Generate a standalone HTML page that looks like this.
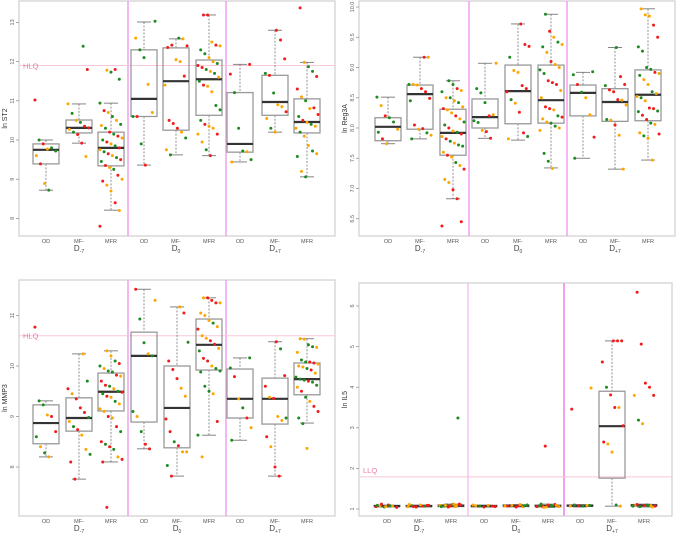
<!DOCTYPE html>
<html><head><meta charset="utf-8"><style>
body{margin:0;background:#fff;}
svg{display:block;font-family:"Liberation Sans",sans-serif;}
</style></head><body>
<svg id="chart" width="677" height="534" viewBox="0 0 677 534"></svg>
<script>
const categories=["OD","MF-","MFR"];
const groups=["-7","0","+7"];
// box stats [lo,q1,med,q3,hi] per group x category
const st2Boxes=[[8.72,9.39,9.75,9.9,10.0],[9.92,10.18,10.31,10.51,10.92],[8.21,9.34,9.8,10.2,10.94],[9.36,10.6,11.05,12.3,13.01],[9.62,10.25,11.5,12.35,12.58],[9.6,10.63,11.55,12.04,13.19],[9.44,9.69,9.9,11.21,11.93],[10.2,10.63,10.97,11.65,12.8],[9.06,10.18,10.46,11.05,11.98]];
const st2Points=["11.02r 10.0g 9.9r 9.77o 9.8g 9.72g 9.6o 9.39r 8.89o 8.72g","12.39g 11.8r 10.92o 10.68g 10.5o 10.45g 10.35r 10.31r 10.27o 10.2g 10.14r 9.92r 9.58o","11.78o 11.73g 11.8r 11.55g 10.94g 10.75r 10.7o 10.6g 10.5o 10.4g 10.37o 10.3g 10.2r 10.15g 10.1r 10.05o 10.0g 9.95r 9.9o 9.85g 9.8r 9.75o 9.7g 9.65r 9.6o 9.55g 9.5r 9.45g 9.35r 9.3o 9.25g 9.1r 9.0o 8.95r 8.85o 8.7o 8.4r 8.2o 7.8r","13.03g 12.6o 12.3g 12.1g 11.42o 10.7o 10.6g 10.6r 9.9g 9.36r","12.6g 12.58o 12.4r 12.36r 12.42r 12.05o 12.0o 11.63r 11.4o 10.5r 10.42r 10.3r 10.2o 10.05g 9.75o 9.62g","13.19r 13.19r 12.5o 12.42r 12.4o 12.3g 12.2g 12.1o 12.0o 11.95g 11.9r 11.85r 11.8g 11.75o 11.7g 11.6o 11.5g 11.4r 11.37o 11.23o 10.88g 10.77g 10.5g 10.4r 10.35o 10.3o 10.15r 10.15o 9.95o 9.75g 9.6r","11.93r 11.68r 11.21g 10.3g 9.72g 9.7o 9.5g 9.44o","12.8r 12.55r 12.07r 11.7g 11.65r 11.2g 10.9o 10.85o 10.72r 10.55o 10.3g 10.2o","13.37r 11.98o 11.87g 11.75g 11.62r 11.3r 11.1o 11.0g 10.8o 10.82r 10.65r 10.6g 10.5r 10.45o 10.4g 10.35o 10.3o 10.2g 10.1o 9.86o 9.72g 9.65o 9.58g 9.2o 9.06g"];
const st2Ticks=[8,9,10,11,12,13];
const reg3aBoxes=[[7.74,7.79,8.02,8.17,8.51],[7.82,7.98,8.56,8.71,9.17],[6.83,7.55,7.92,8.31,8.78],[7.83,8.0,8.18,8.48,9.07],[7.8,8.07,8.61,9.04,9.72],[7.34,8.08,8.46,9.04,9.88],[7.5,8.2,8.58,8.71,8.92],[7.32,8.11,8.43,8.65,9.33],[7.47,8.12,8.55,8.96,9.97]];
const reg3aPoints=["8.51g 8.37o 8.2r 8.17g 8.1g 7.98o 7.93g 7.82r 7.74o","9.17r 9.17o 8.72g 8.72o 8.71o 8.65r 8.6r 8.49r 8.45g 8.05r 7.98o 7.99r 7.92g 7.88o 7.82g","8.78g 8.72g 8.65r 8.62o 8.6g 8.5o 8.5g 8.45o 8.42g 8.35o 8.32r 8.3o 8.25o 8.2r 8.15o 8.1g 8.05g 8.0r 7.95o 7.93g 7.9r 7.86o 7.82r 7.78g 7.75o 7.72g 7.7g 7.6o 7.55r 7.52o 7.43g 7.38o 7.32r 7.15o 7.1o 6.98r 6.83r 6.45r 6.38r","9.07o 8.65g 8.58g 8.42g 8.2r 8.22o 8.12g 8.09g 7.96o 7.94r 7.83r","9.72r 9.38r 9.35r 9.17g 8.95o 8.92o 8.7r 8.65r 8.6r 8.47g 8.41o 8.26r 7.92r 7.86g 7.82o","9.88g 9.6r 9.5o 9.42g 9.38o 9.34g 9.25o 9.1r 9.05o 9.0o 8.96g 8.9g 8.78r 8.75r 8.72r 8.62o 8.5o 8.35r 8.32r 8.3o 8.2g 8.18r 8.15o 8.1o 8.08g 8.03g 8.0o 7.96o 7.58g 7.45g 7.33o","8.93g 8.88g 8.72r 8.59g 8.5o 8.22o 7.85r 7.5g","9.33g 8.85r 8.72r 8.7g 8.63r 8.6r 8.47r 8.46o 8.38o 8.14g 8.13o 8.05r 7.88o 7.32o","9.97o 9.87o 9.85o 9.7r 9.5r 9.34g 9.27g 9.0g 8.97g 8.92r 8.9o 8.87g 8.8o 8.72o 8.6g 8.57o 8.52o 8.5g 8.45o 8.33r 8.32r 8.28g 8.27g 8.21r 8.14r 8.08g 8.06o 7.9r 7.92o 7.87g 7.83o 7.47o"];
const reg3aTicks=[6.5,7.0,7.5,8.0,8.5,9.0,9.5,10.0];
const mmp3Boxes=[[8.2,8.46,8.87,9.23,9.31],[7.76,8.71,8.97,9.37,10.24],[8.1,9.11,9.49,9.86,10.3],[8.36,8.89,10.2,10.67,11.52],[7.82,8.38,9.17,10.0,11.17],[8.63,9.92,10.42,10.93,11.35],[8.53,8.97,9.35,9.94,10.16],[7.82,8.85,9.35,9.76,10.48],[8.87,9.43,9.74,10.06,10.54]];
const mmp3Points=["10.77r 9.31g 9.23g 9.03o 9.0r 8.7r 8.6g 8.4o 8.28g 8.2o","10.24o 9.7g 9.55r 9.45o 9.35r 9.17r 9.08r 8.98g 8.9o 8.8g 8.74r 8.63o 8.35o 8.25g 8.1r 7.76r","10.3o 10.2o 10.1g 10.05r 10.0g 9.95o 9.9g 9.88g 9.82r 9.8o 9.7r 9.62r 9.6g 9.55o 9.5g 9.48r 9.45g 9.4r 9.38o 9.3g 9.25o 9.15o 9.1o 9.0r 8.97o 8.8r 8.7g 8.5r 8.45g 8.4r 8.35g 8.2o 8.15r 8.1r 7.2r","11.3o 11.52r 10.93g 10.46g 10.24o 10.2g 9.1g 9.0o 8.7g 8.45r 8.36r","11.17o 11.05r 10.47g 10.1r 9.93r 9.75r 9.56o 9.4o 8.95r 8.7r 8.5g 8.42r 8.3o 8.3o 8.03g 7.82r","11.35o 11.35r 11.3r 11.25r 11.25o 11.05o 11.0o 10.9o 10.85g 10.78o 10.73r 10.6o 10.55o 10.5r 10.43r 10.35o 10.3g 10.15r 10.1r 10.0o 9.95g 9.9g 9.88g 9.6g 9.5g 9.45o 8.9r 8.63g 8.2o","10.16g 9.96g 9.79r 9.35o 9.17g 8.97r 8.78o 8.53g","10.48r 10.34g 9.81r 9.6r 9.38o 9.36r 9.0o 8.92o 8.97g 8.6r 8.4o 8.0r 7.82r","10.54o 10.53o 10.42g 10.38g 10.37o 10.27o 10.12g 10.08g 10.08r 10.06r 10.04o 10.0o 9.98o 9.95g 9.92r 9.86o 9.78g 9.74g 9.72g 9.7r 9.68g 9.62g 9.58o 9.5r 9.38g 9.3o 9.2r 9.1r 8.97g 8.86g 8.37o"];
const mmp3Ticks=[8,9,10,11];
const il5Boxes=[[1.05,1.06,1.07,1.09,1.1],[1.05,1.06,1.07,1.09,1.1],[1.05,1.06,1.08,1.1,1.12],[1.05,1.06,1.07,1.09,1.1],[1.05,1.06,1.08,1.1,1.11],[1.04,1.06,1.07,1.1,1.12],[1.05,1.07,1.08,1.1,1.11],[1.07,1.76,3.04,3.9,5.14],[1.05,1.07,1.09,1.11,1.12]];
const il5Points=["1.06r 1.08o 1.05g 1.1r 1.07o 1.04r 1.09g 1.12r 1.06o 1.08g","1.07r 1.09r 1.06o 1.08g 1.05r 1.1o 1.07g 1.09r 1.11o 1.06r","1.1g 1.08r 1.06o 1.12r 1.09o 1.07g 1.05r 1.11g 1.08o 1.1r 1.06g 1.09o 1.07r 1.12o 3.24g","1.06r 1.08o 1.07g 1.05r 1.09o 1.07r 1.1o","1.08r 1.06o 1.1g 1.07r 1.09o 1.05r 1.11o 1.08g 1.07o","1.07r 1.05o 1.09g 1.11r 1.06o 1.08g 1.04o 1.1r 1.07g 1.09o 1.06r 1.12g 2.55r","1.09g 1.07o 1.1g 1.08r 1.07g 1.09o 3.98o 3.46r","5.14r 5.14r 5.14r 4.62r 4.0g 3.81r 3.5r 3.5o 3.05r 2.65r 2.6o 2.4o 1.1g 1.07o","6.34r 5.06r 4.1r 4.0r 3.8r 3.8o 3.19g 3.1o 1.1g 1.08o 1.07r 1.1o 1.06g 1.09r 1.08g 1.05o 1.07g 1.11r"];
const il5Ticks=[1,2,3,4,5,6];

const NS="http://www.w3.org/2000/svg";
const svg=document.getElementById('chart');
const COL={r:"#f21b1b",o:"#ffa500",g:"#1e8a22"};
function mk(tag,attrs,parent){const e=document.createElementNS(NS,tag);for(const k in attrs)e.setAttribute(k,attrs[k]);(parent||svg).appendChild(e);return e;}

function panel(cfg){
  const g=mk('g',{});
  
  
  const y=v=>cfg.y0-(v-cfg.v0)*cfg.ppu;
  const fr=mk('rect',{x:cfg.left,y:cfg.top,width:cfg.right-cfg.left,height:cfg.bottom-cfg.top,fill:'none',stroke:'#cfcfcf','stroke-width':1.2},g);
  
  
  cfg.vlines.forEach((vx,i)=>{const l=mk('line',{x1:vx,x2:vx,y1:cfg.top,y2:cfg.bottom,stroke:'#f0a0f0','stroke-width':cfg.vw[i]},g);
    
    });
  if(cfg.ref){const l=mk('line',{x1:cfg.left,x2:cfg.right,y1:y(cfg.ref),y2:y(cfg.ref),stroke:'#f7c8d8','stroke-width':1},g);
    
    
    const t=mk('text',{x:cfg.left+4,y:y(cfg.ref)+(cfg.refBelow?3:-4)+ (cfg.refBelow?0:0),'font-size':7.5,fill:'#e77aa8'},g);t.textContent=cfg.refLabel;
    
    }
  cfg.ticks.forEach(tv=>{const yy=y(tv);
    mk('line',{x1:cfg.left-3,x2:cfg.left,y1:yy,y2:yy,stroke:'#888','stroke-width':0.7},g);
    const t=mk('text',{x:0,y:0,'font-size':5.5,fill:'#666','text-anchor':'middle',transform:`translate(${cfg.left-5},${yy}) rotate(-90)`},g);
    t.textContent=cfg.tickFmt(tv);
    
    });
  const yl=mk('text',{x:0,y:0,'font-size':7,fill:'#333','text-anchor':'middle',transform:`translate(${cfg.left-12},${(cfg.top+cfg.bottom)/2}) rotate(-90)`},g);
  yl.textContent=cfg.ylabel;
  
  
  const bw=26;
  cfg.boxes.forEach((b,i)=>{
    const cx=cfg.xs[i];
    const bg=mk('g',{},g);
    
    
    mk('line',{x1:cx,x2:cx,y1:y(b[4]),y2:y(b[3]),stroke:'#777','stroke-width':0.8,'stroke-dasharray':'2,1.5'},bg);
    mk('line',{x1:cx,x2:cx,y1:y(b[1]),y2:y(b[0]),stroke:'#777','stroke-width':0.8,'stroke-dasharray':'2,1.5'},bg);
    mk('line',{x1:cx-7,x2:cx+7,y1:y(b[4]),y2:y(b[4]),stroke:'#777','stroke-width':0.9},bg);
    mk('line',{x1:cx-7,x2:cx+7,y1:y(b[0]),y2:y(b[0]),stroke:'#777','stroke-width':0.9},bg);
    mk('rect',{x:cx-bw/2,y:y(b[3]),width:bw,height:Math.max(0.5,y(b[1])-y(b[3])),fill:'none',stroke:'#999','stroke-width':1.3},bg);
    mk('line',{x1:cx-bw/2,x2:cx+bw/2,y1:y(b[2]),y2:y(b[2]),stroke:'#333','stroke-width':2.2},bg);
    cfg.points[i].split(' ').forEach((p,j)=>{
      const v=parseFloat(p),c=p.slice(-1);
      const jit=(((j*37+i*11)%17)/16-0.5)*bw*0.85;
      const d=mk('circle',{cx:cx+jit,cy:y(v),r:1.5,fill:COL[c]},bg);
      
      
    });
  });
  cfg.xs.forEach((cx,i)=>{const t=mk('text',{x:cx,y:cfg.bottom+7,'font-size':5.5,fill:'#555','text-anchor':'middle'},g);
    t.textContent=categories[i%3];
    
    });
  [1,4,7].forEach((k,gi)=>{const t=mk('text',{x:cfg.xs[k],y:cfg.bottom+15,'font-size':8,fill:'#444','text-anchor':'middle'},g);
    t.textContent='D';
    const s=mk('tspan',{'font-size':5,dy:2},t);s.textContent=groups[gi];
    
    });
}
panel({name:'panel-st2',left:19,right:335,top:1,bottom:236,y0:140,v0:10,ppu:39.2,ticks:st2Ticks,tickFmt:v=>String(v),ylabel:'ln ST2',
  vlines:[128,226],vw:[1.5,1.5],ref:11.9,refLabel:'HLQ',refBelow:true,boxes:st2Boxes,points:st2Points,
  xs:[46,79,111,144,176,209,240,275,307]});
panel({name:'panel-reg3a',left:359,right:675,top:1,bottom:236,y0:128,v0:8,ppu:60.5,ticks:reg3aTicks,tickFmt:v=>v.toFixed(1),ylabel:'ln Reg3A',
  vlines:[469,567],vw:[1.5,1.5],boxes:reg3aBoxes,points:reg3aPoints,
  xs:[388,420,453,485,518,551,583,615,648]});
panel({name:'panel-mmp3',left:19,right:335,top:280,bottom:516,y0:366,v0:10,ppu:50.5,ticks:mmp3Ticks,tickFmt:v=>String(v),ylabel:'ln MMP3',
  vlines:[128,226],vw:[1.5,1.5],ref:10.6,refLabel:'HLQ',refBelow:true,boxes:mmp3Boxes,points:mmp3Points,
  xs:[46,79,111,144,177,209,240,275,307]});
panel({name:'panel-il5',left:359,right:672,top:283,bottom:516,y0:509,v0:1,ppu:40.6,ticks:il5Ticks,tickFmt:v=>String(v),ylabel:'ln IL5',
  vlines:[468,564],vw:[1,2],ref:1.79,refLabel:'LLQ',refBelow:false,boxes:il5Boxes,points:il5Points,
  xs:[387,419,451,484,516,548,580,612,644]});
</script>
</body></html>
